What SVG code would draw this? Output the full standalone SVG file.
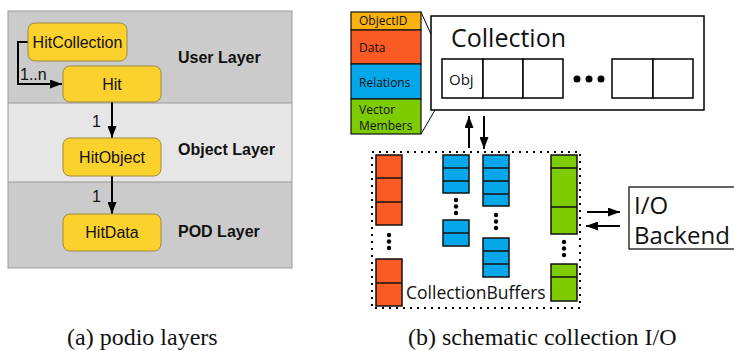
<svg xmlns="http://www.w3.org/2000/svg" width="734" height="351" viewBox="0 0 734 351">
<style>
.node{fill:#FBD22D;stroke:#9C8A44;stroke-width:1}
.nt{font-family:"Liberation Sans",Arial,sans-serif;font-size:16px;fill:#111;text-anchor:middle}
.lay{font-family:"Liberation Sans",Arial,sans-serif;font-size:16px;font-weight:bold;fill:#111}
.lbl{font-family:"Liberation Sans",Arial,sans-serif;font-size:16px;fill:#111}
.cap{font-family:"Liberation Serif","Times New Roman",serif;font-size:24px;fill:#111}
.conn{fill:none;stroke:#000;stroke-width:2}
.os{font-family:"Open Sans","DejaVu Sans",sans-serif;fill:#111}
.cell{fill:#fff;stroke:#000;stroke-width:1.5}
.red{fill:#FA5A24;stroke:#111;stroke-width:1.5}
.blue{fill:#04A8EA;stroke:#111;stroke-width:1.5}
.green{fill:#7ECB00;stroke:#111;stroke-width:1.5}
.seg{stroke:#111;stroke-width:1.5}
</style>
<defs>
<marker id="ah" viewBox="0 0 12 9" refX="12" refY="4.5" markerWidth="6" markerHeight="4.5" orient="auto" markerUnits="strokeWidth">
<path d="M0,0 L12,4.5 L0,9 z" fill="#000"/>
</marker>
</defs>
<rect width="734" height="351" fill="#fff"/>

<g id="layers">
<rect x="8" y="11" width="284" height="92" fill="#CBCBCB"/>
<rect x="8" y="103" width="284" height="79" fill="#E6E6E6"/>
<rect x="8" y="182" width="284" height="86" fill="#CBCBCB"/>
<line x1="8" y1="103" x2="292" y2="103" stroke="#999" stroke-width="1"/>
<line x1="8" y1="182" x2="292" y2="182" stroke="#999" stroke-width="1"/>
<rect x="8" y="11" width="284" height="257" fill="none" stroke="#999" stroke-width="1"/>
<text class="lay" x="178" y="63">User Layer</text>
<text class="lay" x="178" y="155">Object Layer</text>
<text class="lay" x="178" y="237">POD Layer</text>
</g>

<g id="connectors">
<polyline class="conn" points="29,42 18,42 18,84 62,84" marker-end="url(#ah)"/>
<line class="conn" x1="112" y1="102" x2="112" y2="138" marker-end="url(#ah)"/>
<line class="conn" x1="112" y1="176" x2="112" y2="214" marker-end="url(#ah)"/>
<text class="lbl" x="20" y="80" font-size="15">1..n</text>
<text class="lbl" x="92" y="127">1</text>
<text class="lbl" x="92" y="202">1</text>
<line class="conn" x1="469" y1="148" x2="469" y2="116" marker-end="url(#ah)"/>
<line class="conn" x1="484" y1="116" x2="484" y2="149" marker-end="url(#ah)"/>
<line class="conn" x1="587" y1="212" x2="620" y2="212" marker-end="url(#ah)"/>
<line class="conn" x1="620" y1="226" x2="586" y2="226" marker-end="url(#ah)"/>
<line x1="421" y1="12" x2="442" y2="59" stroke="#000" stroke-width="1"/>
<line x1="421" y1="134" x2="442" y2="98" stroke="#000" stroke-width="1"/>
</g>

<g id="HitCollection">
<rect class="node" x="28" y="23" width="99" height="38" rx="7"/>
<text class="nt" x="77.5" y="48">HitCollection</text>
</g>
<g id="Hit">
<rect class="node" x="63" y="66" width="98" height="36" rx="7"/>
<text class="nt" x="112" y="90">Hit</text>
</g>
<g id="HitObject">
<rect class="node" x="63" y="138" width="98" height="38" rx="7"/>
<text class="nt" x="112" y="163">HitObject</text>
</g>
<g id="HitData">
<rect class="node" x="63" y="214" width="98" height="37" rx="7"/>
<text class="nt" x="112" y="238">HitData</text>
</g>

<g id="ObjStack">
<rect x="351" y="12" width="70" height="18" fill="#F9B20E" stroke="#111" stroke-width="1.2"/>
<rect x="351" y="30" width="70" height="34" fill="#FA5A24" stroke="#111" stroke-width="1.2"/>
<rect x="351" y="64" width="70" height="35" fill="#04A8EA" stroke="#111" stroke-width="1.2"/>
<rect x="351" y="99" width="70" height="35" fill="#7ECB00" stroke="#111" stroke-width="1.2"/>
<text class="os" x="359" y="25" font-size="12">ObjectID</text>
<text class="os" x="359" y="52" font-size="12">Data</text>
<text class="os" x="359" y="87" font-size="12">Relations</text>
<text class="os" x="359" y="114" font-size="12">Vector</text>
<text class="os" x="359" y="130" font-size="12">Members</text>
</g>

<g id="Collection">
<rect x="431" y="16" width="273" height="94" fill="#fff" stroke="#000" stroke-width="1.5"/>
<text class="os" x="451" y="47" font-size="25">Collection</text>
<rect class="cell" x="442" y="59" width="41" height="39"/>
<rect class="cell" x="483" y="59" width="40" height="39"/>
<rect class="cell" x="523" y="59" width="40" height="39"/>
<rect class="cell" x="612" y="59" width="41" height="39"/>
<rect class="cell" x="653" y="59" width="40" height="39"/>
<text class="os" x="449" y="85" font-size="15">Obj</text>
<circle cx="577" cy="79" r="3.5" fill="#000"/>
<circle cx="589" cy="79" r="3.5" fill="#000"/>
<circle cx="601" cy="79" r="3.5" fill="#000"/>
</g>

<g id="CollectionBuffers">
<rect x="372" y="152" width="208" height="156" fill="none" stroke="#000" stroke-width="2" stroke-dasharray="2 5"/>
<rect class="red" x="376" y="155" width="26" height="70"/>
<line class="seg" x1="376" y1="178" x2="402" y2="178"/>
<line class="seg" x1="376" y1="202" x2="402" y2="202"/>
<circle cx="389" cy="235" r="2.2"/><circle cx="389" cy="241.5" r="2.2"/><circle cx="389" cy="248" r="2.2"/>
<rect class="red" x="376" y="259" width="26" height="47"/>
<line class="seg" x1="376" y1="283" x2="402" y2="283"/>
<rect class="blue" x="443" y="155" width="26" height="38"/>
<line class="seg" x1="443" y1="168" x2="469" y2="168"/>
<line class="seg" x1="443" y1="181" x2="469" y2="181"/>
<circle cx="456" cy="200" r="2.2"/><circle cx="456" cy="206.5" r="2.2"/><circle cx="456" cy="213" r="2.2"/>
<rect class="blue" x="443" y="220" width="26" height="26"/>
<line class="seg" x1="443" y1="233" x2="469" y2="233"/>
<rect class="blue" x="483" y="155" width="26" height="51"/>
<line class="seg" x1="483" y1="168" x2="509" y2="168"/>
<line class="seg" x1="483" y1="181" x2="509" y2="181"/>
<line class="seg" x1="483" y1="194" x2="509" y2="194"/>
<circle cx="496" cy="215" r="2.2"/><circle cx="496" cy="221.5" r="2.2"/><circle cx="496" cy="228" r="2.2"/>
<rect class="blue" x="483" y="238" width="26" height="39"/>
<line class="seg" x1="483" y1="251" x2="509" y2="251"/>
<line class="seg" x1="483" y1="264" x2="509" y2="264"/>
<rect class="green" x="551" y="155" width="26" height="79"/>
<line class="seg" x1="551" y1="168" x2="577" y2="168"/>
<line class="seg" x1="551" y1="207" x2="577" y2="207"/>
<circle cx="564" cy="242" r="2.2"/><circle cx="564" cy="248.5" r="2.2"/><circle cx="564" cy="255" r="2.2"/>
<rect class="green" x="551" y="264" width="26" height="37"/>
<line class="seg" x1="551" y1="277" x2="577" y2="277"/>
<text class="os" x="406" y="299" font-size="17.5">CollectionBuffers</text>
</g>

<g id="IOBackend">
<rect x="629" y="187" width="120" height="62" fill="#fff" stroke="#000" stroke-width="1.2"/>
<text class="os" x="634" y="214" font-size="24">I/O</text>
<text class="os" x="634" y="244" font-size="24">Backend</text>
</g>

<g id="captions">
<text class="cap" x="67" y="345">(a) podio layers</text>
<text class="cap" x="408" y="345">(b) schematic collection I/O</text>
</g>
</svg>
